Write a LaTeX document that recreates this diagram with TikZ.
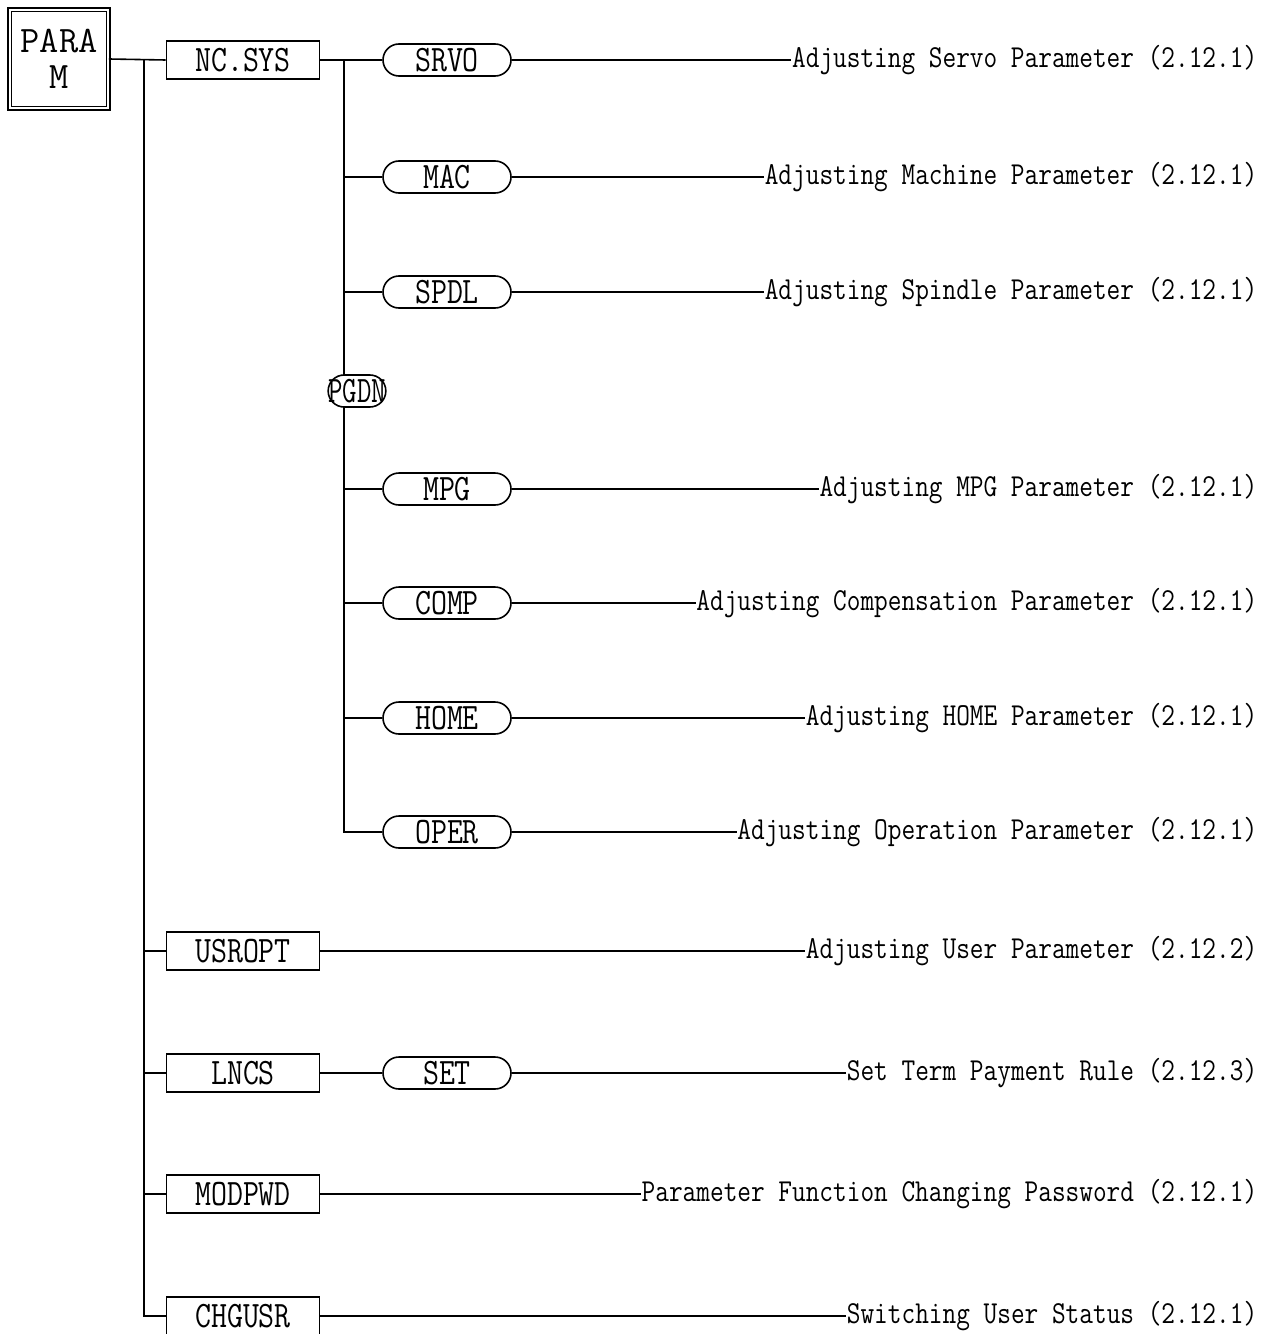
\documentclass[tikz,border=0pt]{standalone}
\usepackage{fontspec}
\usepackage{graphicx}
\newcommand\lblfont{\fontsize{24}{26}\ttfamily}
\newcommand\boxfont{\fontsize{28}{30}\ttfamily}
\newcommand\rootfont{\fontsize{28}{27}\ttfamily}
% condensed text
\newcommand\nrw[1]{\scalebox{0.83}[1]{#1}}
\newcommand\bnrw[1]{\scalebox{0.83}[1]{#1}}
\begin{document}
\begin{tikzpicture}[
  x=0.75pt, y=-0.75pt, line width=1.2pt,
  root/.style={draw, double, double distance=1.6pt, line width=0.9pt, minimum size=74pt, inner sep=0pt, align=center, font=\rootfont},
  menubox/.style={draw, minimum width=114.75pt, minimum height=28.5pt, inner sep=0pt, font=\boxfont},
  pill/.style={draw, fill=white, rounded corners=12pt, minimum width=96pt, minimum height=24pt, inner sep=0pt, font=\boxfont},
  lbl/.style={anchor=east, inner sep=0pt, font=\lblfont}
]
\useasboundingbox (0,0) rectangle (1269,1334);

% Root and first level
\node[root] (param) at (59,59) {PARA\\M};
\node[menubox] (ncsys)  at (243,60)   {\bnrw{NC.SYS}};
\node[menubox] (usropt) at (243,951)  {\bnrw{USROPT}};
\node[menubox] (lncs)   at (243,1073) {\bnrw{LNCS}};
\node[menubox] (modpwd) at (243,1194) {\bnrw{MODPWD}};
\node[menubox] (chgusr) at (243,1316) {\bnrw{CHGUSR}};

% First level trunk
\coordinate (j0) at (144,60);
\draw (param.east) -- (ncsys.west);
\draw (j0) |- (chgusr.west);
\foreach \n in {usropt, lncs, modpwd}
  \draw (j0 |- \n.west) -- (\n.west);

% NC.SYS sub menu
\node[pill] (srvo) at (447,60)  {\bnrw{SRVO}};
\node[pill] (mac)  at (447,177) {\bnrw{MAC}};
\node[pill] (spdl) at (447,292) {\bnrw{SPDL}};
\node[pill] (mpg)  at (447,489) {\bnrw{MPG}};
\node[pill] (comp) at (447,603) {\bnrw{COMP}};
\node[pill] (home) at (447,718) {\bnrw{HOME}};
\node[pill] (oper) at (447,832) {\bnrw{OPER}};
\node[pill] (set)  at (447,1073) {\bnrw{SET}};

\coordinate (j1) at (344,60);
\draw (ncsys.east) -- (srvo.west);
\draw (j1) |- (oper.west);
\foreach \n in {mac, spdl, mpg, comp, home}
  \draw (j1 |- \n.west) -- (\n.west);
\draw (lncs.east) -- (set.west);

% Page down on the trunk
\node[pill, minimum width=39pt, rounded corners=12pt] (pgdn) at (357,391) {\scalebox{0.75}[1]{PGDN}};

% Descriptions
\node[lbl] (dsrvo) at (1258,60)   {\nrw{Adjusting Servo Parameter (2.12.1)}};
\node[lbl] (dmac)  at (1258,177)  {\nrw{Adjusting Machine Parameter (2.12.1)}};
\node[lbl] (dspdl) at (1258,292)  {\nrw{Adjusting Spindle Parameter (2.12.1)}};
\node[lbl] (dmpg)  at (1258,489)  {\nrw{Adjusting MPG Parameter (2.12.1)}};
\node[lbl] (dcomp) at (1258,603)  {\nrw{Adjusting Compensation Parameter (2.12.1)}};
\node[lbl] (dhome) at (1258,718)  {\nrw{Adjusting HOME Parameter (2.12.1)}};
\node[lbl] (doper) at (1258,832)  {\nrw{Adjusting Operation Parameter (2.12.1)}};
\node[lbl] (dusr)  at (1258,951)  {\nrw{Adjusting User Parameter (2.12.2)}};
\node[lbl] (dset)  at (1258,1073) {\nrw{Set Term Payment Rule (2.12.3)}};
\node[lbl] (dpwd)  at (1258,1194) {\nrw{Parameter Function Changing Password (2.12.1)}};
\node[lbl] (dchg)  at (1258,1316) {\nrw{Switching User Status (2.12.1)}};

\foreach \a/\b in {srvo/dsrvo, mac/dmac, spdl/dspdl, mpg/dmpg, comp/dcomp, home/dhome, oper/doper, set/dset}
  \draw (\a.east) -- (\b.west);
\foreach \a/\b in {usropt/dusr, modpwd/dpwd, chgusr/dchg}
  \draw (\a.east) -- (\b.west);

\end{tikzpicture}
\end{document}
